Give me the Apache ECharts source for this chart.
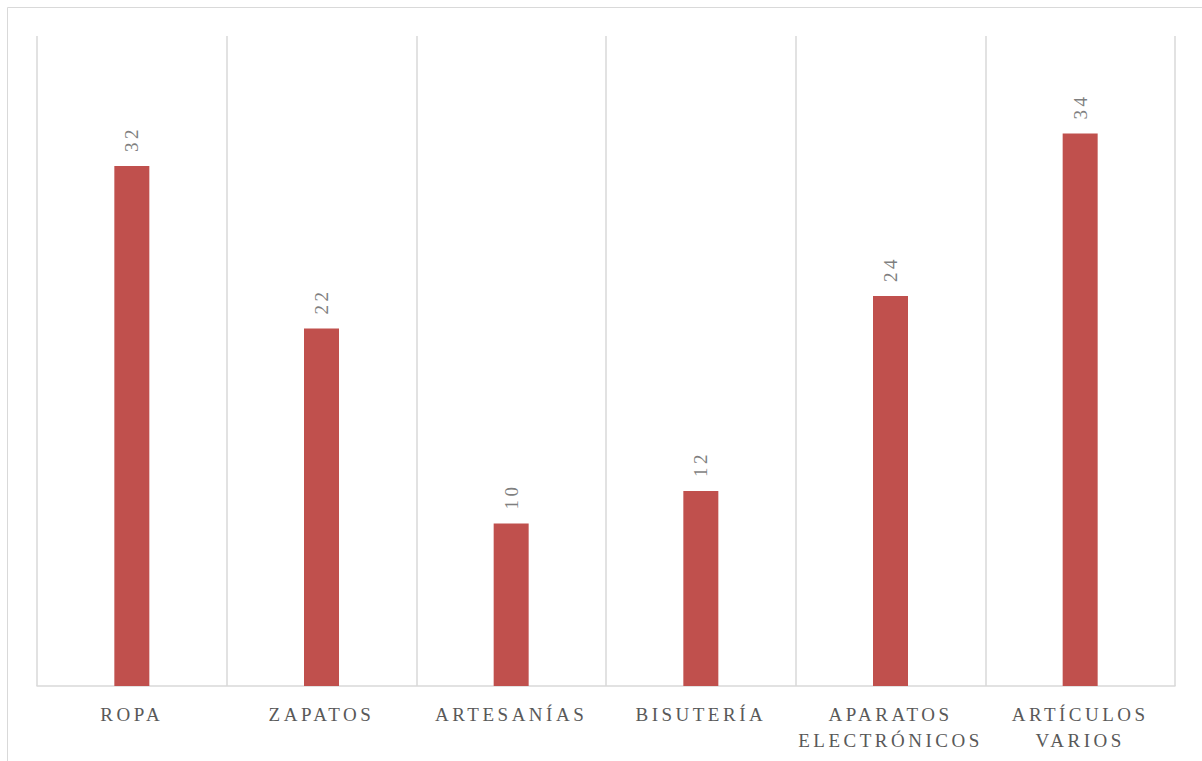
<!DOCTYPE html>
<html>
<head>
<meta charset="utf-8">
<script src="https://cdn.jsdelivr.net/npm/echarts@6/dist/echarts.min.js"></script>
<style>
html,body{margin:0;padding:0;background:#fff;}
#chart{width:1202px;height:761px;}
#chart svg text{letter-spacing:3.5px;}
</style>
</head>
<body>
<div id="chart"></div>
<script>
const categories = ['ROPA', 'ZAPATOS', 'ARTESANÍAS', 'BISUTERÍA', 'APARATOS\nELECTRÓNICOS', 'ARTÍCULOS\nVARIOS'];
const values = [32, 22, 10, 12, 24, 34];

const chart = echarts.init(document.getElementById('chart'), null, {renderer: 'svg'});
chart.setOption({
  animation: false,
  backgroundColor: '#fff',
  graphic: [{
    type: 'rect',
    shape: {x: 7.5, y: 7.5, width: 1400, height: 900},
    style: {fill: 'none', stroke: '#d9d9d9', lineWidth: 1},
    silent: true
  }],
  grid: {left: 37, right: 27, top: 36, bottom: 75, containLabel: false},
  xAxis: {
    type: 'category',
    data: categories,
    axisLine: {lineStyle: {color: '#d9d9d9', width: 1.5}},
    axisTick: {show: false},
    splitLine: {show: true, lineStyle: {color: '#d9d9d9', width: 1.5}},
    axisLabel: {
      color: '#595959',
      fontFamily: 'Liberation Serif',
      fontSize: 19,
      lineHeight: 26,
      margin: 15,
      interval: 0
    }
  },
  yAxis: {
    type: 'value',
    min: 0,
    max: 40,
    show: false,
    splitLine: {show: false}
  },
  series: [{
    type: 'bar',
    data: values,
    barWidth: 35,
    itemStyle: {color: '#c0504d'},
    label: {
      show: true,
      position: 'top',
      rotate: 90,
      align: 'left',
      verticalAlign: 'middle',
      distance: 14,
      color: '#7f7f7f',
      fontFamily: 'Liberation Serif',
      fontSize: 19
    }
  }]
});
</script>
</body>
</html>
